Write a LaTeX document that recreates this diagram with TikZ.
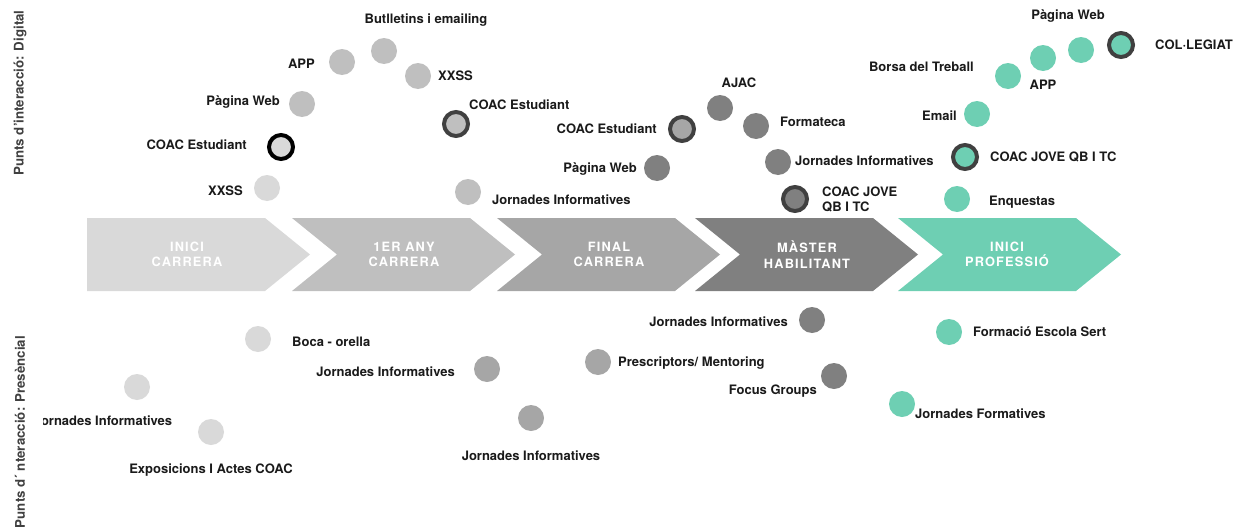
\documentclass[tikz,border=0pt]{standalone}
\usepackage{fontspec}
\setmainfont{TeX Gyre Heros}
\usetikzlibrary{positioning}

\definecolor{stageA}{HTML}{D9D9D9}
\definecolor{stageB}{HTML}{BFBFBF}
\definecolor{stageC}{HTML}{A6A6A6}
\definecolor{stageD}{HTML}{808080}
\definecolor{stageE}{HTML}{6ECFB3}
\definecolor{ringdark}{HTML}{404040}
\definecolor{labeltext}{HTML}{1A1A1A}

\begin{document}
\begin{tikzpicture}[
    x=1pt, y=-1pt,
    dot/.style={circle, inner sep=0pt, outer sep=0pt, minimum size=26pt},
    ring/.style={circle, inner sep=0pt, outer sep=0pt, minimum size=24pt, draw=ringdark, line width=4pt},
    lbl/.style={font=\bfseries\fontsize{13}{15}\selectfont, text=labeltext, inner sep=0pt, text height=9.4pt, text depth=0pt},
    lbltwo/.style={font=\bfseries\fontsize{13}{15}\selectfont, text=labeltext, inner sep=0pt, align=left},
    stagetxt/.style={font=\bfseries\fontsize{12.8}{15.5}\selectfont\addfontfeature{LetterSpace=9}, text=white, align=center},
    axislbl/.style={font=\bfseries\fontsize{13.3}{16}\selectfont, text=black!75, rotate=90},
]
\useasboundingbox (0,0) rectangle (1253,530);

%% STAGES
    \foreach \i/\xo/\nt/\col/\tx/\txt in {1/87/0/stageA/100/{INICI\\CARRERA}, 2/292/45/stageB/112/{1ER ANY\\CARRERA}, 3/497/45/stageC/112/{FINAL\\CARRERA}, 4/695/45/stageD/112/{MÀSTER\\HABILITANT}, 5/898/45/stageE/109/{INICI\\PROFESSIÓ}}{
        \fill[\col] (\xo,218) -- ++(178,0) -- ++(45,36.5) -- ++(-45,36.5) -- ++(-178,0) -- ++(\nt,-36.5) -- cycle;
        \node[stagetxt] (stage\i) at (\xo+\tx,254.5) {\txt};
    }

%% AXIS LABELS
    \node[axislbl] (axis_digital) at (20,93) {Punts d’interacció: Digital};
    \node[axislbl] (axis_presencial) at (20,432) {Punts d´ nteracció: Presèncial};

%% DIGITAL
    % inici carrera
    \node[dot, fill=stageA] (d_xxss1) at (267,188) {};
    \node[lbl, left=11pt of d_xxss1, yshift=-3pt] (d_xxss1_lbl) {XXSS};

    \node[ring, fill=stageA, draw=black] (d_coac1) at (281,147) {};
    \node[lbl, left=22pt of d_coac1, yshift=2pt] (d_coac1_lbl) {COAC Estudiant};

    % 1er any carrera
    \node[dot, fill=stageB] (d_web2) at (302,104) {};
    \node[lbl, left=9pt of d_web2, yshift=3pt] (d_web2_lbl) {Pàgina Web};

    \node[dot, fill=stageB] (d_app2) at (342,62) {};
    \node[lbl, left=14pt of d_app2, yshift=-2pt] (d_app2_lbl) {APP};

    \node[dot, fill=stageB] (d_butll2) at (384,51) {};
    \node[lbl, above=14pt of d_butll2, xshift=42pt] (d_butll2_lbl) {Butlletins i emailing};

    \node[dot, fill=stageB] (d_xxss2) at (418,76) {};
    \node[lbl, right=7pt of d_xxss2] (d_xxss2_lbl) {XXSS};

    \node[ring, fill=stageB] (d_coac2) at (456,124) {};
    \node[lbl, right=1pt of d_coac2, yshift=19pt] (d_coac2_lbl) {COAC Estudiant};

    \node[dot, fill=stageB] (d_jorn2) at (468,192) {};
    \node[lbl, right=11pt of d_jorn2, yshift=-8pt] (d_jorn2_lbl) {Jornades Informatives};

    % final carrera
    \node[dot, fill=stageD] (d_web3) at (657,168) {};
    \node[lbl, left=7pt of d_web3] (d_web3_lbl) {Pàgina Web};

    \node[ring, fill=stageC] (d_coac3) at (682,129) {};
    \node[lbl, left=13pt of d_coac3] (d_coac3_lbl) {COAC Estudiant};

    % master habilitant
    \node[dot, fill=stageD] (d_ajac4) at (720,108) {};
    \node[lbl, above=7pt of d_ajac4, xshift=19pt] (d_ajac4_lbl) {AJAC};

    \node[dot, fill=stageD] (d_format4) at (756,126) {};
    \node[lbl, right=11pt of d_format4, yshift=4pt] (d_format4_lbl) {Formateca};

    \node[dot, fill=stageD] (d_jorn4) at (778,162) {};
    \node[lbl, right=4pt of d_jorn4, yshift=1pt] (d_jorn4_lbl) {Jornades Informatives};

    \node[ring, fill=stageD] (d_jove4) at (795,199) {};
    \node[lbltwo, right=15pt of d_jove4] (d_jove4_lbl) {COAC JOVE\\QB I TC};

    % inici professio
    \node[dot, fill=stageE] (d_enq5) at (957,199) {};
    \node[lbl, right=19pt of d_enq5, yshift=-2pt] (d_enq5_lbl) {Enquestas};

    \node[ring, fill=stageE] (d_jove5) at (965,157) {};
    \node[lbl, right=13pt of d_jove5] (d_jove5_lbl) {COAC JOVE QB I TC};

    \node[dot, fill=stageE] (d_email5) at (977,114) {};
    \node[lbl, left=7pt of d_email5, yshift=-2pt] (d_email5_lbl) {Email};

    \node[dot, fill=stageE] (d_borsa5) at (1008,76) {};
    \node[lbl, left=21pt of d_borsa5, yshift=9pt] (d_borsa5_lbl) {Borsa del Treball};

    \node[dot, fill=stageE] (d_app5) at (1043,58) {};
    \node[lbl, below=9pt of d_app5] (d_app5_lbl) {APP};

    \node[dot, fill=stageE] (d_web5) at (1081,50) {};
    \node[lbl, above=17pt of d_web5, xshift=-13pt] (d_web5_lbl) {Pàgina Web};

    \node[ring, fill=stageE] (d_coleg5) at (1121,45) {};
    \node[lbl, right=22pt of d_coleg5] (d_coleg5_lbl) {COL·LEGIAT};

%% PRESENCIAL
    % inici carrera
    \node[dot, fill=stageA] (p_boca1) at (258,339) {};
    \node[lbl, right=21pt of p_boca1, yshift=-3pt] (p_boca1_lbl) {Boca - orella};

    \node[dot, fill=stageA] (p_jorn1) at (137,387) {};
    \begin{scope}
        \clip (43,400) rectangle (300,440);
        \node[lbl, below=16pt of p_jorn1, xshift=-34pt] (p_jorn1_lbl) {Jornades Informatives};
    \end{scope}

    \node[dot, fill=stageA] (p_expo1) at (211,432) {};
    \node[lbl, below=19pt of p_expo1] (p_expo1_lbl) {Exposicions I Actes COAC};

    % 1er any / final carrera
    \node[dot, fill=stageC] (p_jorn2) at (487,369) {};
    \node[lbl, left=19pt of p_jorn2, yshift=-3pt] (p_jorn2_lbl) {Jornades Informatives};

    \node[dot, fill=stageC] (p_jorn3) at (531,418) {};
    \node[lbl, below=20pt of p_jorn3] (p_jorn3_lbl) {Jornades Informatives};

    \node[dot, fill=stageC] (p_presc3) at (598,362) {};
    \node[lbl, right=7pt of p_presc3] (p_presc3_lbl) {Prescriptors/ Mentoring};

    % master habilitant
    \node[dot, fill=stageD] (p_jorn4) at (812,320) {};
    \node[lbl, left=11pt of p_jorn4, yshift=-2pt] (p_jorn4_lbl) {Jornades Informatives};

    \node[dot, fill=stageD] (p_focus4) at (834,376) {};
    \node[lbl, left=4pt of p_focus4, yshift=-14pt] (p_focus4_lbl) {Focus Groups};

    % inici professio
    \node[dot, fill=stageE] (p_sert5) at (949,332) {};
    \node[lbl, right=11pt of p_sert5] (p_sert5_lbl) {Formació Escola Sert};

    \node[dot, fill=stageE] (p_form5) at (902,404) {};
    \node[lbl, right=0pt of p_form5, yshift=-10pt] (p_form5_lbl) {Jornades Formatives};

\end{tikzpicture}
\end{document}
